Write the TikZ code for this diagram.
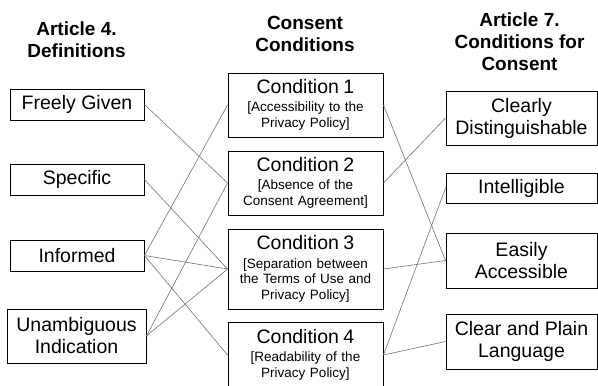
\documentclass[tikz,border=0pt]{standalone}
\usepackage{fontspec}
\setmainfont{Liberation Sans}
\usepackage{tikz}

\tikzset{
  box/.style={draw, line width=0.9pt, align=center, inner sep=2pt,
    font=\fontsize{19.5}{22}\selectfont},
  condbox/.style={draw, line width=0.9pt, minimum width=155pt, text width=151pt,
    align=center, inner sep=2pt, font=\fontsize{13.5}{15.8}\selectfont},
  head/.style={align=center, font=\bfseries\fontsize{19}{22}\selectfont},
  link/.style={draw=black!55, line width=0.6pt}
}
\newcommand{\condtitle}[1]{{\fontsize{19.5}{22}\selectfont #1}\\[2.5pt]}

\begin{document}
\begin{tikzpicture}[x=1pt,y=-1pt]
            \useasboundingbox (0,0) rectangle (598,386);
            % column headings
            \node[head] at (76.5,40) (hdef) {Article 4.\\Definitions};
            \node[head] at (305,34) (hcond) {Consent\\Conditions};
            \node[head] at (519.5,42) (hart) {Article 7.\\Conditions for\\Consent};
            % definitions
            \node[box, minimum width=134pt, minimum height=31pt] at (77,104.5) (freely) {Freely Given};
            \node[box, minimum width=134pt, minimum height=31pt] at (77,179.5) (specific) {Specific};
            \node[box, minimum width=134pt, minimum height=31pt] at (77,255.5) (informed) {Informed};
            \node[box, minimum width=139pt, minimum height=54pt] at (76.5,336) (unamb) {Unambiguous\\Indication};
            % conditions
            \node[condbox, minimum height=64pt] at (305.5,105) (c1) {\condtitle{Condition 1}[Accessibility to the\\Privacy Policy]};
            \node[condbox, minimum height=64pt] at (305.5,183) (c2) {\condtitle{Condition 2}[Absence of the\\Consent Agreement]};
            \node[condbox, minimum height=80pt] at (305.5,269) (c3) {\condtitle{Condition 3}[Separation between\\the Terms of Use and\\Privacy Policy]};
            \node[condbox, minimum height=66pt] at (305.5,355) (c4) {\condtitle{Condition 4}[Readability of the\\Privacy Policy]};
            % article 7
            \node[box, minimum width=151pt, minimum height=54pt] at (521.5,118) (clear) {Clearly\\Distinguishable};
            \node[box, minimum width=151pt, minimum height=30pt] at (521.5,188) (intel) {Intelligible};
            \node[box, minimum width=151pt, minimum height=55pt] at (521.5,260.5) (easy) {Easily\\Accessible};
            \node[box, minimum width=151pt, minimum height=55pt] at (521.5,341.5) (plain) {Clear and Plain\\Language};
            % links
            \draw[link] (freely.east) -- (c2.west);
            \draw[link] (specific.east) -- (c3.west);
            \draw[link] (informed.east) -- (c1.west);
            \draw[link] (informed.east) -- (c3.west);
            \draw[link] (informed.east) -- (c4.west);
            \draw[link] (unamb.east) -- (c2.west);
            \draw[link] (unamb.east) -- (c3.west);
            \draw[link] (c1.east) -- (easy.west);
            \draw[link] (c2.east) -- (clear.west);
            \draw[link] (c3.east) -- (easy.west);
            \draw[link] (c4.east) -- (intel.west);
            \draw[link] (c4.east) -- (plain.west);
        \end{tikzpicture}
\end{document}
